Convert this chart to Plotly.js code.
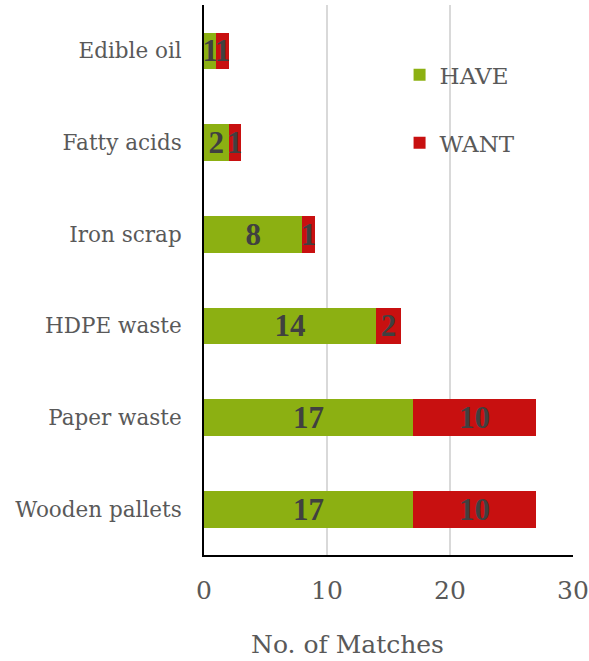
<!DOCTYPE html>
<html>
<head>
<meta charset="utf-8">
<script src="https://cdn.plot.ly/plotly-3.0.1.min.js"></script>
<style>html,body{margin:0;padding:0;background:#fff;}#chart{width:589px;height:661px;}</style>
</head>
<body>
<div id="chart"></div>
<script>
var categories = ["Edible oil", "Fatty acids", "Iron scrap", "HDPE waste", "Paper waste", "Wooden pallets"];
var haveValues = [1, 2, 8, 14, 17, 17];
var wantValues = [1, 1, 1, 2, 10, 10];
var seriesNames = ["HAVE", "WANT"];
var xTicks = [0, 10, 20, 30];

var SERIF = "DejaVu Serif, serif";
var BOLDSERIF = "Liberation Serif";
var labelFont = {family: BOLDSERIF, size: 31, color: "#404040", weight: "bold"};

function barTrace(name, vals, color, group) {
  return {
    type: "bar", orientation: "h", name: name, legendgroup: group,
    y: categories, x: vals,
    marker: {color: color, line: {width: 0}},
    text: vals.map(String), textposition: "inside", insidetextanchor: "middle",
    constraintext: "none", textangle: 0,
    textfont: labelFont, insidetextfont: labelFont,
    hoverinfo: "x+name"
  };
}

var data = [
  barTrace(seriesNames[0], haveValues, "#8cb012", "g1"),
  barTrace(seriesNames[1], wantValues, "#c81010", "g2")
];

var layout = {
  width: 589, height: 661,
  margin: {l: 204, r: 16, t: 5, b: 106},
  paper_bgcolor: "#ffffff", plot_bgcolor: "#ffffff",
  barmode: "stack", bargap: 0.6,
  font: {family: SERIF, color: "#595959"},
  xaxis: {
    range: [0, 30], tickvals: xTicks, ticktext: xTicks.map(String),
    showgrid: true, gridcolor: "#d9d9d9", gridwidth: 2,
    zeroline: false, showline: true, linecolor: "#000000", linewidth: 2,
    ticks: "", tickfont: {family: SERIF, size: 25, color: "#595959"},
    ticklabelstandoff: 12, fixedrange: true
  },
  yaxis: {
    type: "category", categoryorder: "array", categoryarray: categories,
    autorange: "reversed",
    showgrid: false, zeroline: false, showline: true, linecolor: "#000000", linewidth: 2,
    ticks: "", tickfont: {family: SERIF, size: 21.5, color: "#595959"},
    ticklabelstandoff: 16, fixedrange: true
  },
  legend: {
    x: 0.53, y: 0.912, xanchor: "left", yanchor: "top",
    traceorder: "grouped", tracegroupgap: 35,
    font: {family: SERIF, size: 23, color: "#595959"},
    bgcolor: "rgba(0,0,0,0)", itemwidth: 30
  },
  annotations: [{
    text: "No. of Matches", xref: "paper", yref: "paper",
    x: 0.39, y: -0.163, xanchor: "center", yanchor: "middle",
    showarrow: false, font: {family: SERIF, size: 25, color: "#595959"}
  }],
  showlegend: true
};

Plotly.newPlot("chart", data, layout, {displayModeBar: false, staticPlot: true});
</script>
</body>
</html>
